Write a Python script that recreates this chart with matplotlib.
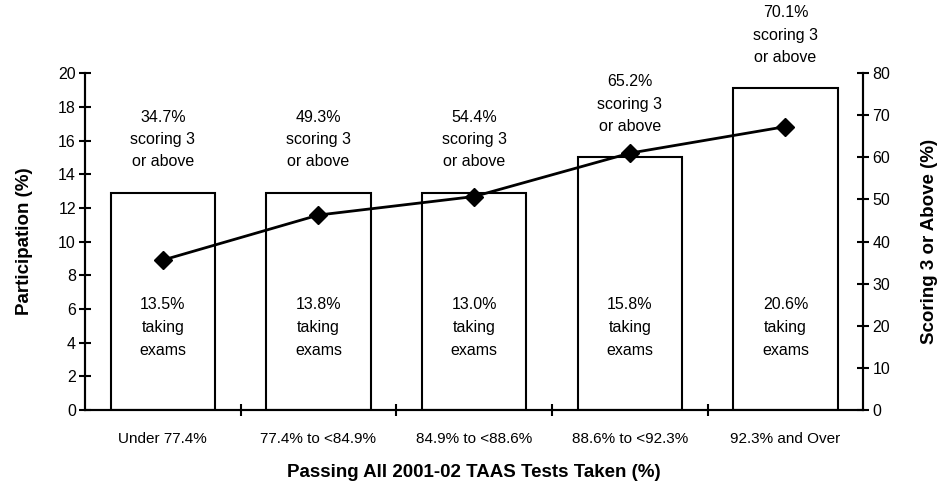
import matplotlib.pyplot as plt
from matplotlib import font_manager

# font: narrow sans if available
names = {f.name for f in font_manager.fontManager.ttflist}
fam = 'Liberation Sans Narrow' if 'Liberation Sans Narrow' in names else 'Liberation Sans'
plt.rcParams['font.family'] = [fam, 'DejaVu Sans']

categories = ['Under 77.4%', '77.4% to <84.9%', '84.9% to <88.6%',
              '88.6% to <92.3%', '92.3% and Over']
participation = [12.9, 12.9, 12.9, 15.0, 19.1]
scoring = [35.6, 46.3, 50.7, 61.0, 67.3]
taking_labels = ['13.5%', '13.8%', '13.0%', '15.8%', '20.6%']
scoring_labels = ['34.7%', '49.3%', '54.4%', '65.2%', '70.1%']

fig = plt.figure(figsize=(9.4, 4.91), dpi=100)
ax = fig.add_axes([0.0904, 0.165, 0.828, 0.686])
ax2 = ax.twinx()

x = [i + 0.5 for i in range(len(categories))]
ax.bar(x, participation, width=0.67, color='white', edgecolor='black', linewidth=1.5, zorder=2)

for xi, h, t, s in zip(x, participation, taking_labels, scoring_labels):
    ax.text(xi, 4.9, t + '\ntaking\nexams', ha='center', va='center',
            fontsize=11.5, linespacing=1.65, zorder=3)
    ax.annotate(s + '\nscoring 3\nor above', (xi, h), xytext=(0, 17),
                textcoords='offset points', ha='center', va='bottom',
                fontsize=11.5, linespacing=1.6, annotation_clip=False)

ax2.plot(x, scoring, color='black', linewidth=2, marker='D', markersize=9.5, zorder=4)

ax.set_xlim(0, 5)
ax.set_ylim(0, 20)
ax2.set_ylim(0, 80)
ax.set_yticks(range(0, 21, 2))
ax2.set_yticks(range(0, 81, 10))

ax.set_xticks([1, 2, 3, 4])
ax.set_xticklabels([])
ax.set_xticks(x, minor=True)
ax.set_xticklabels(categories, minor=True, fontsize=11)
ax.tick_params(axis='x', which='minor', length=0, pad=16)
ax.tick_params(axis='x', which='major', direction='inout', length=9, width=1.5)
ax.tick_params(axis='y', direction='inout', length=9, width=1.5, labelsize=11.5, pad=2)
ax2.tick_params(axis='y', direction='inout', length=9, width=1.5, labelsize=11.5, pad=2)

for a in (ax, ax2):
    a.spines['top'].set_visible(False)
    for s in ('left', 'right', 'bottom'):
        a.spines[s].set_linewidth(1.5)

ax.set_ylabel('Participation (%)', fontsize=13.5, fontweight='bold', labelpad=18)
ax2.set_ylabel('Scoring 3 or Above (%)', fontsize=13.5, fontweight='bold', labelpad=22)
ax.set_xlabel('Passing All 2001-02 TAAS Tests Taken (%)', fontsize=13.5,
              fontweight='bold', labelpad=13)

fig.savefig('out.png', dpi=100)
plt.close()
